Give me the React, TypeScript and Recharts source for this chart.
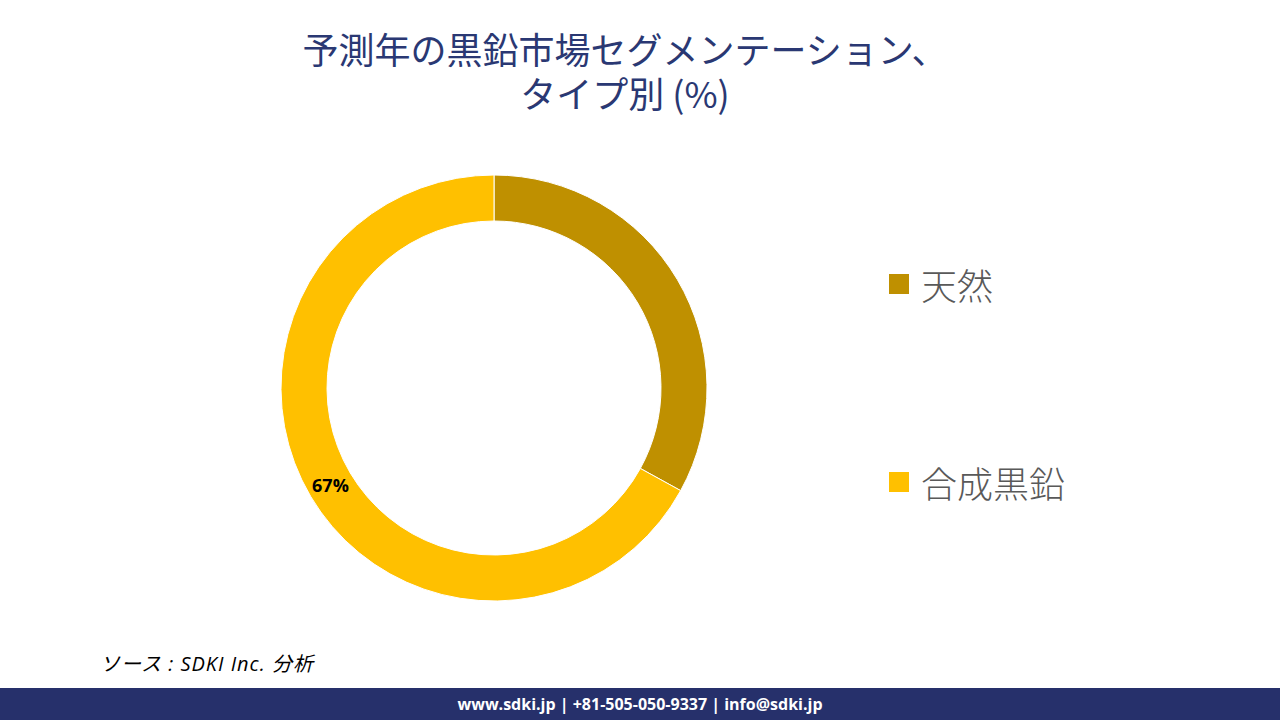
import { PieChart, Pie, Cell } from "recharts"

const segments = ["天然", "合成黒鉛"]
const shares = [33, 67]
const colors = ["#BF9000", "#FFC000"]
const shownLabels = ["合成黒鉛"]

const data = segments.map((name, i) => ({ name, value: shares[i] }))

const RADIAN = Math.PI / 180

function renderLabel(props: any) {
  const { cx, cy, midAngle, innerRadius, outerRadius, name, value } = props
  if (!shownLabels.includes(name)) return null
  const r = (innerRadius + outerRadius) / 2
  const x = cx + r * Math.cos(-midAngle * RADIAN)
  const y = cy + r * Math.sin(-midAngle * RADIAN)
  return (
    <text
      x={x}
      y={y}
      textAnchor="middle"
      dominantBaseline="central"
      fill="#000"
      fontSize={18}
      fontWeight="bold"
      fontFamily="'Open Sans', sans-serif"
    >
      {value}%
    </text>
  )
}

export default function App() {
  return (
    <div style={{ position: "absolute", left: 0, top: 0, width: 1280, height: 720, background: "#fff", overflow: "hidden" }}>
      <div
        style={{
          position: "absolute",
          top: 26,
          left: 0,
          width: 1250,
          textAlign: "center",
          color: "#2A3873",
          fontSize: 36,
          lineHeight: "44px",
          whiteSpace: "pre-line",
          fontFamily: "'Noto Sans CJK JP', sans-serif",
        }}
      >
        {"予測年の黒鉛市場セグメンテーション、\nタイプ別 (%)"}
      </div>

      <div style={{ position: "absolute", left: 0, top: 0 }}>
        <PieChart width={1280} height={720}>
          <Pie
            data={data}
            dataKey="value"
            nameKey="name"
            cx={489}
            cy={383}
            innerRadius={167}
            outerRadius={213}
            startAngle={90}
            endAngle={-270}
            stroke="#fff"
            strokeWidth={1}
            label={renderLabel}
            labelLine={false}
            isAnimationActive={false}
          >
            {data.map((d, i) => (
              <Cell key={d.name} fill={colors[i]} />
            ))}
          </Pie>
        </PieChart>
      </div>

      {/* legend */}
      {segments.map((name, i) => (
        <div
          key={name}
          style={{
            position: "absolute",
            left: 889,
            top: 264 + i * 198,
            height: 40,
            display: "flex",
            alignItems: "center",
          }}
        >
          <span style={{ width: 20, height: 20, background: colors[i], display: "inline-block", marginRight: 12 }} />
          <span style={{ fontSize: 36, fontWeight: 300, color: "#595959", fontFamily: "'Noto Sans CJK JP', sans-serif" }}>
            {name}
          </span>
        </div>
      ))}

      <div
        style={{
          position: "absolute",
          left: 100,
          top: 648,
          fontSize: 20,
          letterSpacing: 1,
          fontStyle: "italic",
          color: "#000",
          fontFamily: "'Open Sans', 'Noto Sans CJK JP', sans-serif",
        }}
      >
        ソース : SDKI Inc. 分析
      </div>

      <div
        style={{
          position: "absolute",
          left: 0,
          top: 688,
          width: 1280,
          height: 32,
          background: "#26306B",
          color: "#fff",
          fontSize: 16,
          fontWeight: "bold",
          lineHeight: "32px",
          textAlign: "center",
          fontFamily: "'Open Sans', sans-serif",
        }}
      >
        www.sdki.jp | +81-505-050-9337 | info@sdki.jp
      </div>
    </div>
  )
}
